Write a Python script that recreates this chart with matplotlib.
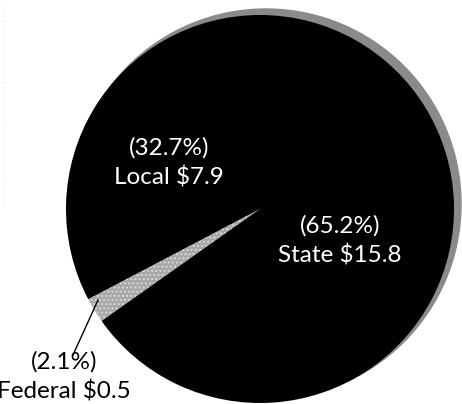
import matplotlib
matplotlib.use("Agg")
import matplotlib.pyplot as plt
from matplotlib.patches import Circle

# Revenue sources ($ billions) and their shares
SOURCES = ["Local", "Federal", "State"]
AMOUNTS = [7.9, 0.5, 15.8]
SHARES = [32.7, 2.1, 65.2]
COLORS = ["#000000", "#a8a8a8", "#000000"]

plt.rcParams["font.family"] = ["Lato", "DejaVu Sans"]

fig = plt.figure(figsize=(4.62, 4.04), dpi=100)
ax = fig.add_axes([0, 0, 1, 1])

cx, cy, r = 260, 195, 194

# halftone shadow ring on the upper right
ax.add_patch(Circle((cx + 6, cy + 5), r + 1, color="#8a8a8a", zorder=0))

wedges, _ = ax.pie(SHARES, colors=COLORS, startangle=90, counterclock=True,
                   center=(cx, cy), radius=r, frame=True,
                   wedgeprops=dict(linewidth=0))
wedges[1].set_hatch("....")
wedges[1].set_edgecolor("#d8d8d8")
ax.set_xlim(0, 462)
ax.set_ylim(0, 404)
ax.set_aspect("equal")
ax.axis("off")

fs = 17.5
ax.text(169, 241, f"({SHARES[0]}%)\n{SOURCES[0]} ${AMOUNTS[0]}", color="white",
        ha="center", va="center", fontsize=fs, linespacing=1.45)
ax.text(340, 163, f"({SHARES[2]}%)\n{SOURCES[2]} ${AMOUNTS[2]}", color="white",
        ha="center", va="center", fontsize=fs, linespacing=1.45)
ax.text(64, 27, f"({SHARES[1]}%)\n{SOURCES[1]} ${AMOUNTS[1]}", color="black",
        ha="center", va="center", fontsize=fs, linespacing=1.45)
ax.plot([98, 73], [104, 49], color="black", lw=1)

# faint scan edge on the left
ax.plot([4, 4], [200, 404], color="#cccccc", lw=0.6, ls=(0, (1, 4)))

fig.savefig("out.png", dpi=100)
